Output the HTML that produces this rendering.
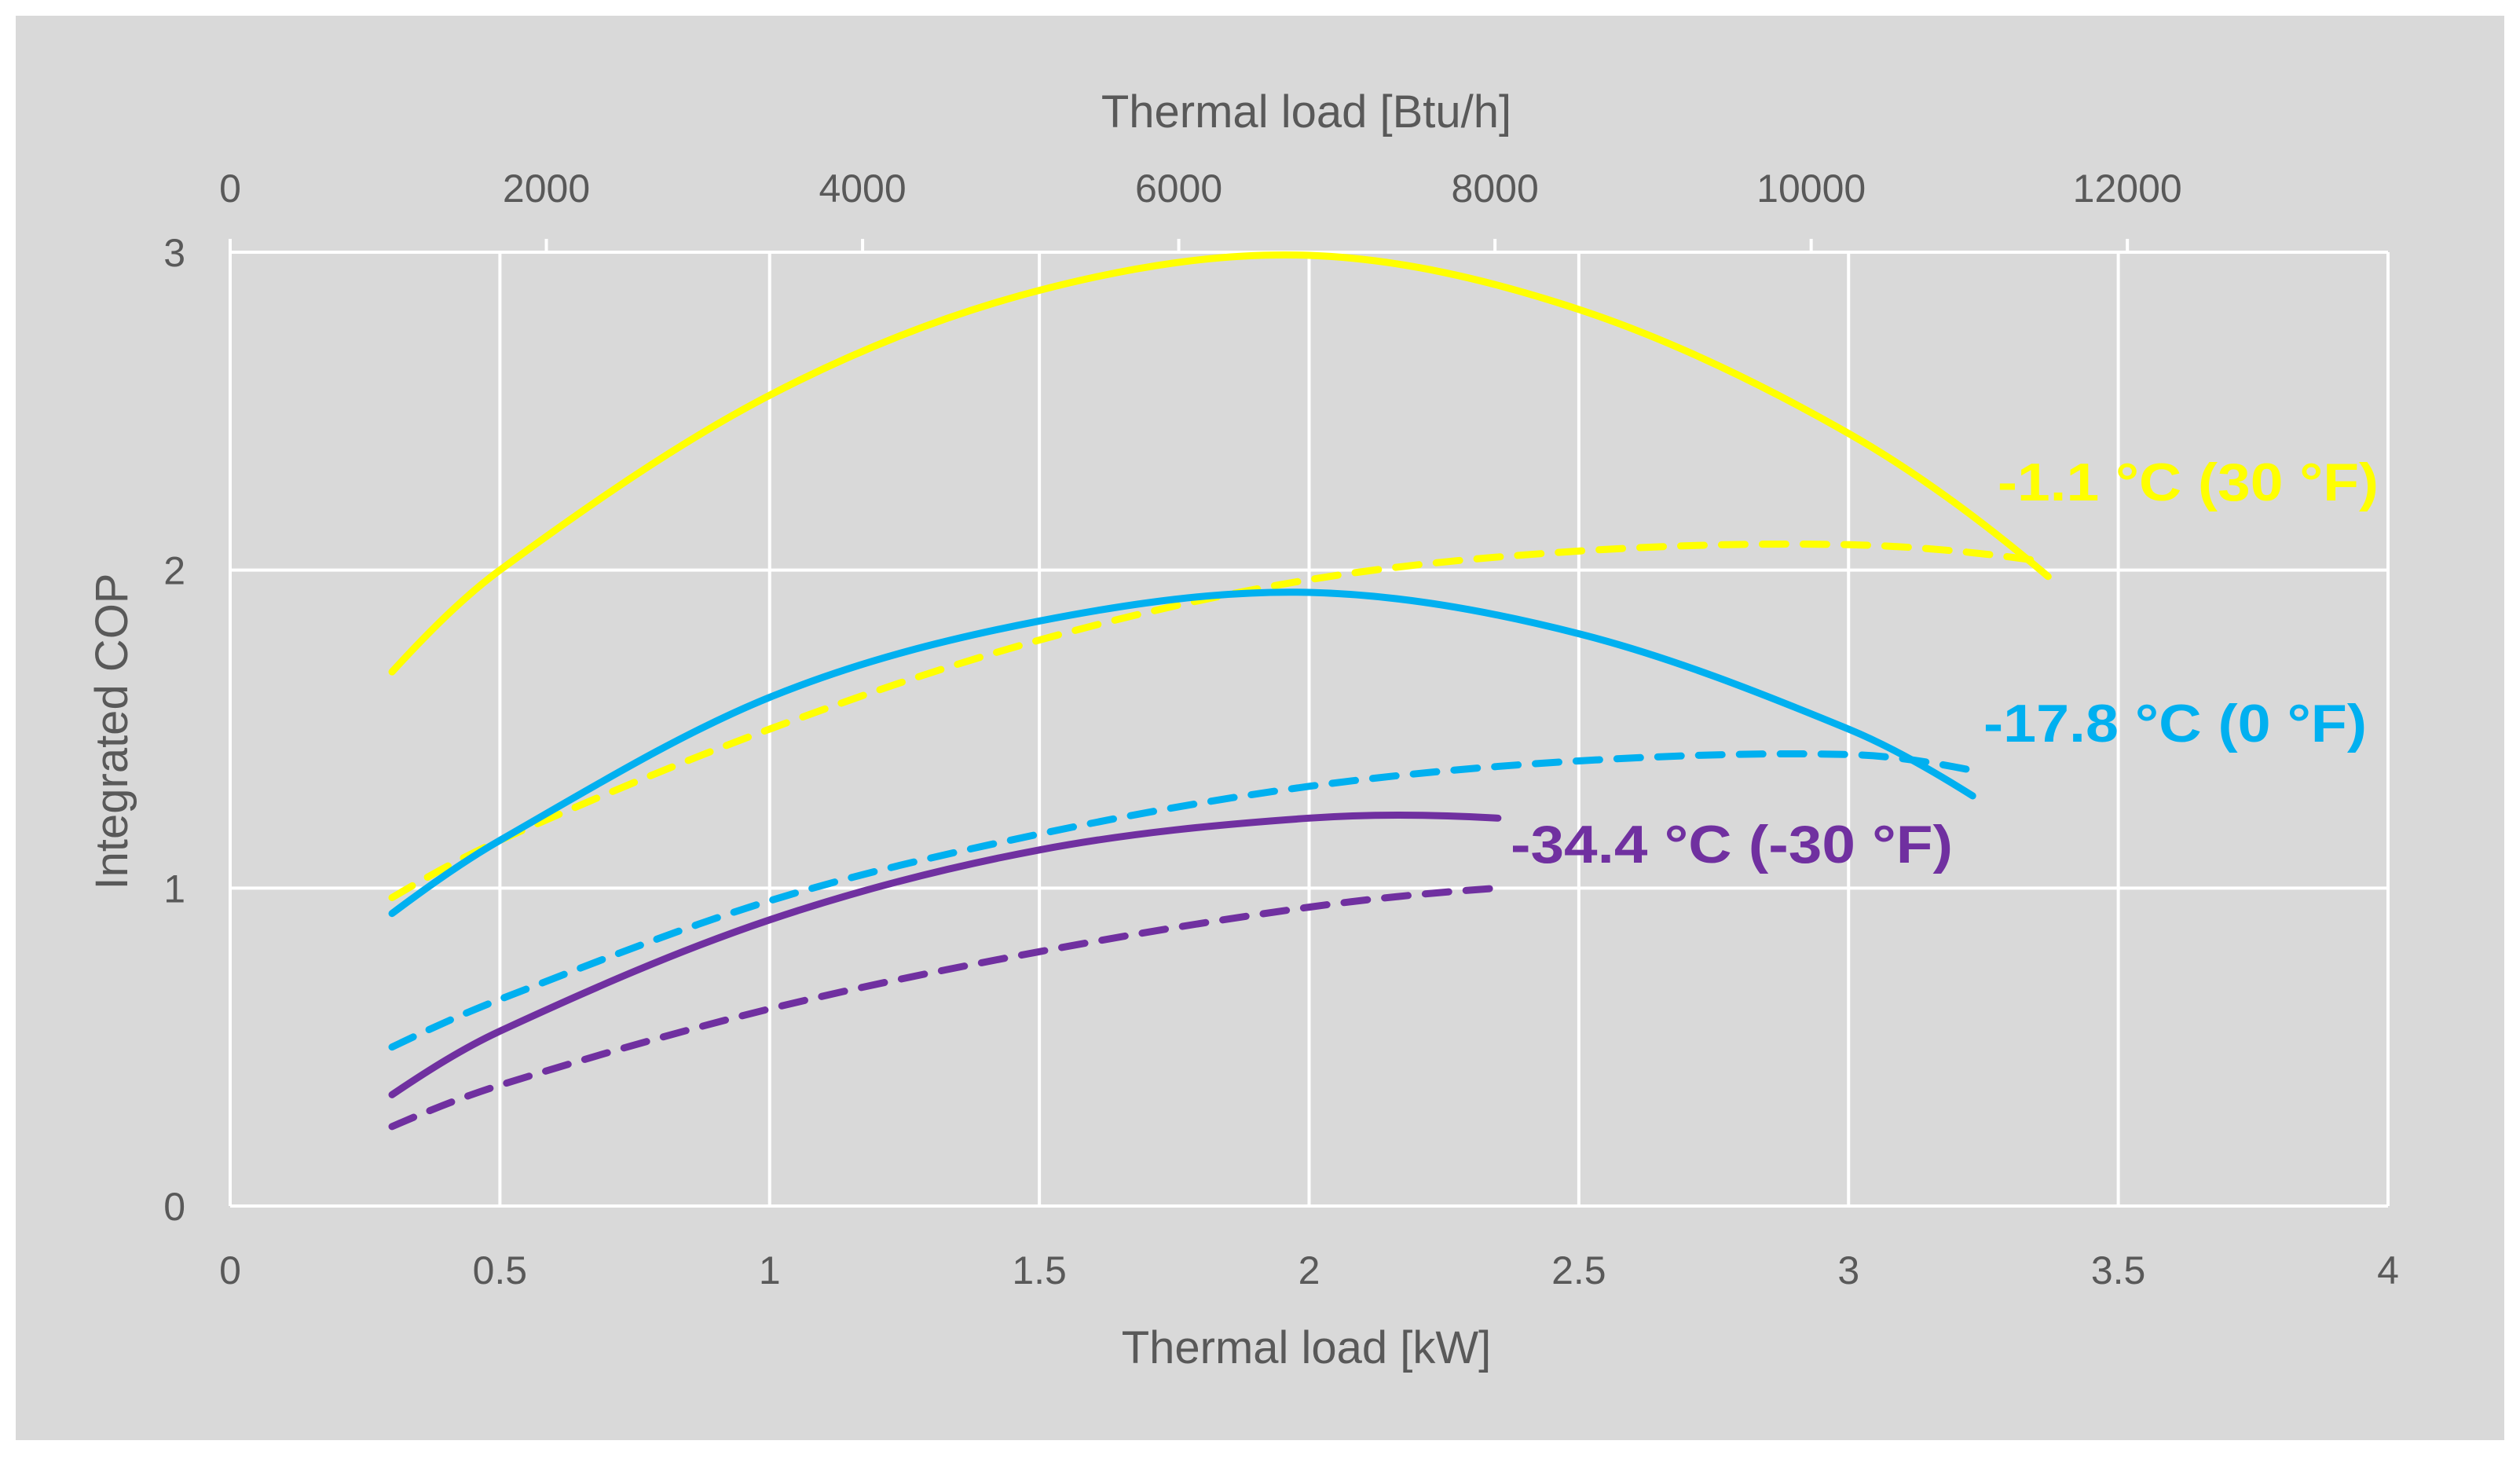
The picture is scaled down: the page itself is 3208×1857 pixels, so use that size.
<!DOCTYPE html>
<html><head><meta charset="utf-8"><style>
html,body{margin:0;padding:0;background:#fff;}
svg{display:block;font-family:"Liberation Sans",sans-serif;}
</style></head><body>
<svg id="chart" width="3208" height="1857" viewBox="0 0 3208 1857">
<rect x="20" y="20" width="3168" height="1813" fill="#d9d9d9"/>
<g id="grid"></g>
<g id="series"></g>
<g id="labels"></g>
<text x="1663" y="162" text-anchor="middle" font-size="58" fill="#595959">Thermal load [Btu/h]</text>
<text x="1663" y="1735" text-anchor="middle" font-size="58" fill="#595959">Thermal load [kW]</text>
<text x="0" y="0" transform="translate(162,931) rotate(-90)" text-anchor="middle" font-size="58" fill="#595959">Integrated COP</text>
<text x="2543" y="637" font-size="68" font-weight="bold" fill="#ffff00" textLength="485" lengthAdjust="spacingAndGlyphs">-1.1 °C (30 °F)</text>
<text x="2525" y="944" font-size="68" font-weight="bold" fill="#00b0f0" textLength="488" lengthAdjust="spacingAndGlyphs">-17.8 °C (0 °F)</text>
<text x="1923" y="1098" font-size="68" font-weight="bold" fill="#7030a0" textLength="563" lengthAdjust="spacingAndGlyphs">-34.4 °C (-30 °F)</text>
</svg>
<script>
const xTicks=[0,0.5,1,1.5,2,2.5,3,3.5,4];
const xTickLabels=["0","0.5","1","1.5","2","2.5","3","3.5","4"];
const yTicks=[0,1,2,3];
const yTickLabels=["0","1","2","3"];
const btuTicks=[0,2000,4000,6000,8000,10000,12000];
const btuTickLabels=["0","2000","4000","6000","8000","10000","12000"];
const loadKW=[0.3,0.5,1.0,1.5,2.0,2.5,3.0];
const yellowSolid=[1.68,2.0,2.55,2.88,2.99,2.82,2.43];
const yellowSolidEnd=[3.37,1.98];
const yellowDashed=[0.97,1.15,1.5,1.78,1.97,2.06,2.08];
const yellowDashedEnd=[3.35,2.03];
const blueSolid=[0.92,1.15,1.6,1.84,1.93,1.8,1.5];
const blueSolidEnd=[3.23,1.29];
const blueDashed=[0.5,0.65,0.96,1.17,1.32,1.4,1.42];
const blueDashedEnd=[3.23,1.37];
const loadKWPurple=[0.3,0.5,1.0,1.5,2.0,2.35];
const purpleSolid=[0.35,0.55,0.9,1.12,1.22,1.22];
const purpleDashed=[0.25,0.38,0.62,0.8,0.94,1.0];

const X0=293,X1=3040,Y0=1535,Y1=321;
const sx=v=>X0+(v/4)*(X1-X0);
const sy=v=>Y0-(v/3)*(Y0-Y1);
const sbtu=v=>sx(v/3412.14);
const NS="http://www.w3.org/2000/svg";
function mk(tag,attrs,parent){const e=document.createElementNS(NS,tag);for(const k in attrs)e.setAttribute(k,attrs[k]);parent.appendChild(e);return e;}
const grid=document.getElementById('grid'),ser=document.getElementById('series'),lab=document.getElementById('labels');

xTicks.forEach((t,i)=>{
  const l=mk('line',{x1:sx(t),x2:sx(t),y1:Y1,y2:Y0,stroke:'#fff','stroke-width':4},grid);
  
  
  const tx=mk('text',{x:sx(t),y:1634,'text-anchor':'middle','font-size':50,fill:'#595959'},lab);
  tx.textContent=xTickLabels[i];
  
  
});
yTicks.forEach((t,i)=>{
  const l=mk('line',{x1:X0,x2:X1,y1:sy(t),y2:sy(t),stroke:'#fff','stroke-width':4},grid);
  
  
  const tx=mk('text',{x:236,y:sy(t)+18,'text-anchor':'end','font-size':50,fill:'#595959'},lab);
  tx.textContent=yTickLabels[i];
  
  
});
btuTicks.forEach((t,i)=>{
  const l=mk('line',{x1:sbtu(t),x2:sbtu(t),y1:Y1-17,y2:Y1,stroke:'#fff','stroke-width':4},grid);
  
  
  const tx=mk('text',{x:sbtu(t),y:257,'text-anchor':'middle','font-size':50,fill:'#595959'},lab);
  tx.textContent=btuTickLabels[i];
  
  
});

function path(xs,ys){
  const n=xs.length,m=[];
  for(let i=0;i<n;i++){
    if(i===0)m.push((ys[1]-ys[0])/(xs[1]-xs[0])*1.5-((ys[2]-ys[1])/(xs[2]-xs[1]))*0.5);
    else if(i===n-1)m.push((ys[n-1]-ys[n-2])/(xs[n-1]-xs[n-2])*1.5-((ys[n-2]-ys[n-3])/(xs[n-2]-xs[n-3]))*0.5);
    else m.push((ys[i+1]-ys[i-1])/(xs[i+1]-xs[i-1]));
  }
  let d=`M${sx(xs[0])},${sy(ys[0])}`;
  for(let i=0;i<n-1;i++){
    const h=xs[i+1]-xs[i];
    const c1x=xs[i]+h/3,c1y=ys[i]+m[i]*h/3;
    const c2x=xs[i+1]-h/3,c2y=ys[i+1]-m[i+1]*h/3;
    d+=` C${sx(c1x)},${sy(c1y)} ${sx(c2x)},${sy(c2y)} ${sx(xs[i+1])},${sy(ys[i+1])}`;
  }
  return d;
}
function draw(xs,ys,color,dashed,name){
  const e=mk('path',{d:path(xs,ys),fill:'none',stroke:color,'stroke-width':9,'stroke-linecap':'round'},ser);
  if(dashed)e.setAttribute('stroke-dasharray','30 22');
  
  
}
const withEnd=(xs,ys,end)=>[xs.concat([end[0]]),ys.concat([end[1]])];
draw(...withEnd(loadKW,yellowDashed,yellowDashedEnd),'#ffff00',true,'series-yellow-dashed');
draw(...withEnd(loadKW,yellowSolid,yellowSolidEnd),'#ffff00',false,'series-yellow-solid');
draw(...withEnd(loadKW,blueDashed,blueDashedEnd),'#00b0f0',true,'series-blue-dashed');
draw(...withEnd(loadKW,blueSolid,blueSolidEnd),'#00b0f0',false,'series-blue-solid');
draw(loadKWPurple,purpleDashed,'#7030a0',true,'series-purple-dashed');
draw(loadKWPurple,purpleSolid,'#7030a0',false,'series-purple-solid');
</script>
</body></html>
